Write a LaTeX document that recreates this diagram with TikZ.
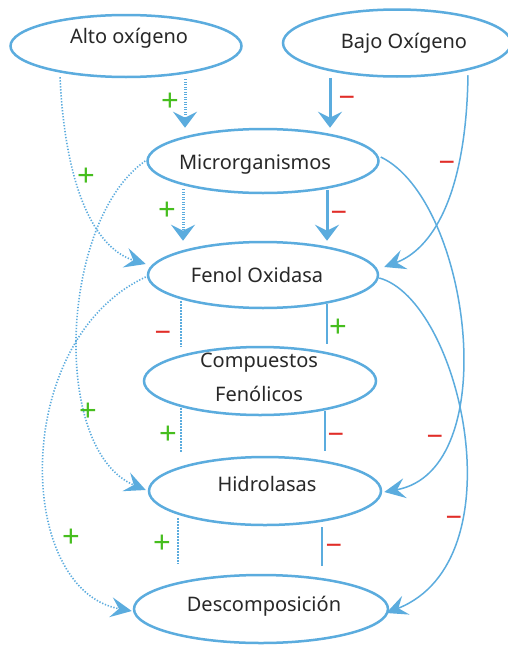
\documentclass[tikz,border=0pt]{standalone}
\usepackage{fontspec}
\setmainfont{Noto Sans}
\usetikzlibrary{shapes.geometric,arrows.meta,calc}
\definecolor{lblue}{RGB}{91,172,222}
\definecolor{pgreen}{RGB}{70,190,30}
\definecolor{mred}{RGB}{225,45,40}
\definecolor{txtc}{RGB}{40,40,40}
\begin{document}
\begin{tikzpicture}[x=1pt,y=-1pt,
  elli/.style={draw=lblue, line width=2.5pt, ellipse, inner sep=0pt},
  lbl/.style={anchor=base, text=txtc, font=\fontsize{20}{24}\selectfont, inner sep=0pt},
  thickdot/.style={draw=lblue, line width=3pt, dash pattern=on 1.2pt off 1.3pt},
  thicksolid/.style={draw=lblue, line width=3pt},
  thindot/.style={draw=lblue, line width=1.6pt, dash pattern=on 1.3pt off 1.7pt},
  thinsolid/.style={draw=lblue, line width=1.5pt},
  bigtip/.style={-{Stealth[length=16pt,width=24pt,inset=6pt]}},
  smalltip/.style={-{Stealth[length=21pt,width=20pt,inset=8pt]}},
  plus/.style={text=pgreen, font=\fontsize{31}{31}\selectfont, anchor=base, inner sep=0pt},
  minus/.style={text=mred, font=\fontsize{29}{29}\selectfont, anchor=base, inner sep=0pt}]
\useasboundingbox[fill=white] (0,0) rectangle (508,645);

% ellipses
\node[elli, minimum width=231pt, minimum height=62pt] (alto) at (126,46) {};
\node[elli, minimum width=228pt, minimum height=67pt] (bajo) at (397,43) {};
\node[elli, minimum width=231pt, minimum height=64pt] (micro) at (263,161) {};
\node[elli, minimum width=230pt, minimum height=66pt] (fenol) at (263,275) {};
\node[elli, minimum width=232pt, minimum height=68pt] (comp) at (260,381) {};
\node[elli, minimum width=232pt, minimum height=68pt] (hidro) at (265,491) {};
\node[elli, minimum width=254pt, minimum height=68pt] (desc) at (261,609) {};

% texts
\node[lbl] (talto) at (129,43) {Alto oxígeno};
\node[lbl] (tbajo) at (404,48) {Bajo Oxígeno};
\node[lbl] (tmicro) at (255,169) {Microrganismos};
\node[lbl] (tfenol) at (257,282) {Fenol Oxidasa};
\node[lbl] (tcomp1) at (259,367) {Compuestos};
\node[lbl] (tcomp2) at (259,401) {Fenólicos};
\node[lbl] (thidro) at (267,491) {Hidrolasas};
\node[lbl] (tdesc) at (264,611) {Descomposición};

% vertical connectors
\draw[thickdot,bigtip] ($(alto.south)+(59,1)$) -- ($(micro.north)+(-78,0)$);
\draw[thicksolid,bigtip] ($(bajo.south)+(-67,0)$) -- ($(micro.north)+(67,0)$);
\draw[thickdot,bigtip] ($(micro.south)+(-80,-5)$) -- ($(fenol.north)+(-80,0)$);
\draw[thicksolid,bigtip] ($(micro.south)+(64,-4)$) -- ($(fenol.north)+(64,0)$);
\draw[thindot] ($(fenol.south)+(-82,-8)$) -- ($(comp.north)+(-79,1)$);
\draw[thinsolid] ($(fenol.south)+(64,-5)$) -- ($(comp.north)+(67,-2)$);
\draw[thindot] ($(comp.south)+(-79,-8)$) -- ($(hidro.north)+(-84,-4)$);
\draw[thinsolid] ($(comp.south)+(65,-5)$) -- ($(hidro.north)+(60,-5)$);
\draw[thindot] ($(hidro.south)+(-87,-8)$) -- ($(desc.north)+(-83,-10)$);
\draw[thinsolid] ($(hidro.south)+(57,1)$) -- ($(desc.north)+(61,-8)$);

% curved connectors
\draw[thindot,smalltip] ($(alto.south)+(-66,-1)$) .. controls (66,200) and (100,250) .. ($(fenol.west)+(-1,-11)$);
\draw[thinsolid,smalltip] ($(bajo.south)+(71,-2.5)$) .. controls (466,200) and (430,250) .. ($(fenol.east)+(5,-8)$);
\draw[thindot,smalltip] ($(micro.west)+(-1,0)$) .. controls (60,220) and (50,450) .. ($(hidro.west)+(-2,-1)$);
\draw[thindot,smalltip] ($(fenol.west)+(-1,2)$) .. controls (10,340) and (15,590) .. ($(desc.west)+(-1,2)$);
\draw[thinsolid,smalltip] ($(micro.east)+(1,-4)$) .. controls (470,200) and (505,470) .. ($(hidro.east)+(2,1)$);
\draw[thinsolid,smalltip] ($(fenol.east)+(0,3)$) .. controls (460,300) and (520,560) .. ($(desc.east)+(-3,4)$);

% signs
\node[plus] (p1) at (170,111) {+};
\node[plus] (p2) at (167,220) {+};
\node[plus] (p3) at (86,186) {+};
\node[plus] (p4) at (88,421) {+};
\node[plus] (p5) at (168,444) {+};
\node[plus] (p6) at (338,337) {+};
\node[plus] (p7) at (71,547) {+};
\node[plus] (p8) at (162,553) {+};
\node[minus] (m1) at (347,107) {−};
\node[minus] (m2) at (339,222) {−};
\node[minus] (m3) at (447,172) {−};
\node[minus] (m4) at (163,342) {−};
\node[minus] (m5) at (336,444) {−};
\node[minus] (m6) at (435,446) {−};
\node[minus] (m7) at (334,555) {−};
\node[minus] (m8) at (454,527) {−};
\end{tikzpicture}
\end{document}
